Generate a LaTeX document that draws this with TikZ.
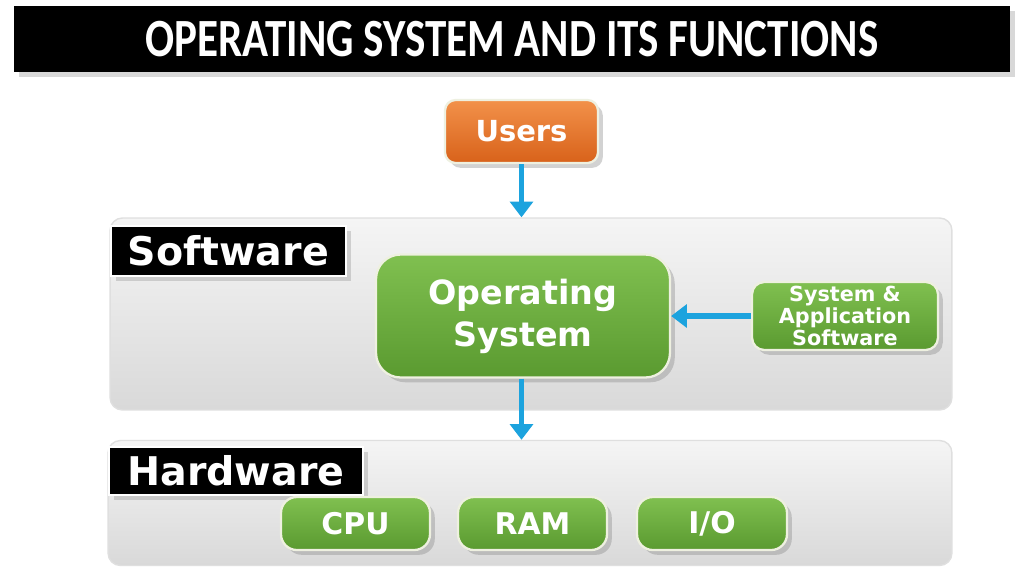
\documentclass[tikz,border=0pt]{standalone}
\usepackage{fontspec}
\setmainfont{DejaVu Sans}
\newfontfamily\titlefont{Carlito}
\usepackage{graphicx}
\usepackage{tikz}
\usetikzlibrary{positioning,arrows.meta,shadows}

\definecolor{osgreenT}{HTML}{80C050}
\definecolor{osgreenB}{HTML}{5A9A30}
\definecolor{usrorT}{HTML}{F2914A}
\definecolor{usrorB}{HTML}{D8621A}
\definecolor{flowblue}{HTML}{1CA3DE}
\definecolor{rimcol}{HTML}{EEF0E0}

\tikzset{
    greenbox/.style={draw=rimcol, line width=1.3pt, rounded corners=9pt,
        top color=osgreenT, bottom color=osgreenB, text=white,
        font=\bfseries, align=center, drop shadow={opacity=0.35}},
    panel/.style={draw=gray!25, line width=0.8pt, rounded corners=7pt,
        top color=gray!8, bottom color=gray!30},
    tag/.style={fill=black, draw=white, line width=1pt, text=white,
        font=\bfseries\fontsize{22.5}{24}\selectfont, anchor=north west,
        inner sep=0pt, drop shadow={opacity=0.3}},
    flow/.style={draw=flowblue, line width=3.4pt,
        -{Triangle[width=13pt,length=9pt]}}
}

\begin{document}
\begin{tikzpicture}[x=0.02cm,y=-0.02cm]
    \useasboundingbox[fill=white] (0,0) rectangle (1024,576);

    % Title bar
    \node[fill=black, minimum width=19.92cm, minimum height=1.32cm, inner sep=0pt,
          text=white, font=\titlefont\bfseries\fontsize{24.5}{26}\selectfont,
          drop shadow={opacity=0.3}] (title) at (512,39)
          {\scalebox{1}[1.25]{OPERATING SYSTEM AND ITS FUNCTIONS}};

    % Layers
    \node[panel, minimum width=16.84cm, minimum height=3.84cm] (swpanel) at (531,314) {};
    \node[panel, minimum width=16.88cm, minimum height=2.5cm] (hwpanel) at (530,503) {};
    \node[tag, minimum width=4.7cm, minimum height=1cm] (swtag) at (110,225) {Software};
    \node[tag, minimum width=5.08cm, minimum height=0.96cm] (hwtag) at (108,446) {Hardware};

    % Boxes
    \node[greenbox, rounded corners=6pt, top color=usrorT, bottom color=usrorB,
          minimum width=3.06cm, minimum height=1.26cm,
          font=\bfseries\fontsize{16.5}{18}\selectfont] (users) at (521.5,131.5) {Users};
    \node[greenbox, rounded corners=14pt, minimum width=5.88cm, minimum height=2.46cm,
          font=\bfseries\fontsize{19}{24}\selectfont] (os) at (523,316) {Operating\\System};
    \node[greenbox, rounded corners=7pt, minimum width=3.72cm, minimum height=1.36cm,
          inner sep=1pt, font=\bfseries\fontsize{11.8}{12.5}\selectfont] (apps) at (845,316)
          {System \&\\Application\\Software};
    \node[greenbox, minimum width=2.98cm, minimum height=1.06cm,
          font=\bfseries\fontsize{17}{18}\selectfont] (cpu) at (355.5,523.5) {CPU};
    \node[greenbox, minimum width=2.98cm, minimum height=1.06cm,
          font=\bfseries\fontsize{17}{18}\selectfont] (ram) at (532.5,523.5) {RAM};
    \node[greenbox, minimum width=3cm, minimum height=1.06cm,
          font=\bfseries\fontsize{17}{18}\selectfont] (io) at (712,523.5) {I/O};

    % Arrows
    \draw[flow] (users.south) -- (users.south |- swpanel.north);
    \draw[flow] (apps.west) -- (os.east);
    \draw[flow] (os.south -| users.south) -- (users.south |- hwpanel.north);
\end{tikzpicture}
\end{document}
